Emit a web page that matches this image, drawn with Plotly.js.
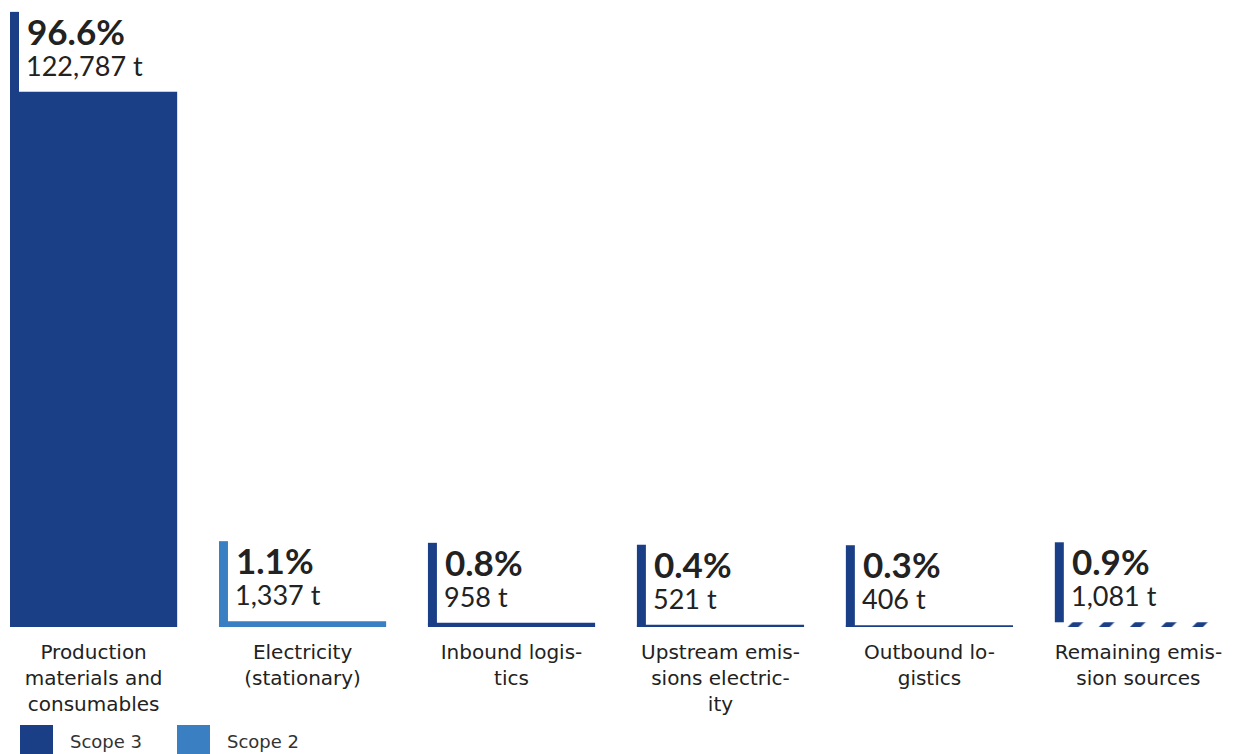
<!DOCTYPE html>
<html>
<head>
<meta charset="utf-8">
<script src="https://cdn.plot.ly/plotly-3.0.1.min.js"></script>
<style>
html,body{margin:0;padding:0;background:#fff;}
#chart{width:1240px;height:754px;}
</style>
</head>
<body>
<div id="chart"></div>
<script>
// ---- data ----
const categories = [
  'Production<br>materials and<br>consumables',
  'Electricity<br>(stationary)',
  'Inbound logis-<br>tics',
  'Upstream emis-<br>sions electric-<br>ity',
  'Outbound lo-<br>gistics',
  'Remaining emis-<br>sion sources'
];
const tonnes = [122787, 1337, 958, 521, 406, 1081];
const tonneLabels = ['122,787 t', '1,337 t', '958 t', '521 t', '406 t', '1,081 t'];
const percentLabels = ['96.6%', '1.1%', '0.8%', '0.4%', '0.3%', '0.9%'];
const scopes = ['Scope 3', 'Scope 2', 'Scope 3', 'Scope 3', 'Scope 3', 'Scope 3'];
const hatched = [false, false, false, false, false, true];
const legendNames = ['Scope 3', 'Scope 2'];

// ---- styles ----
const scopeColor = {'Scope 3': '#1b3f87', 'Scope 2': '#3a7fc2'};
const textColor = '#222222';
const NUMFONT = 'Lato, "Open Sans", sans-serif';
const LABFONT = '"DejaVu Sans", "Open Sans", sans-serif';

const W = 1240, H = 754;
const M = {l: 10, r: 18, t: 10, b: 127};
const plotW = W - M.l - M.r, plotH = H - M.t - M.b;
const BARW = 0.8;

const idx = categories.map((c, i) => i);
const colors = scopes.map(s => scopeColor[s]);

// solid bars
const solidTrace = {
  type: 'bar',
  x: idx.filter(i => !hatched[i]),
  y: tonnes.filter((v, i) => !hatched[i]),
  width: BARW,
  marker: {color: colors.filter((c, i) => !hatched[i]), line: {width: 0}},
  hoverinfo: 'skip', showlegend: false
};
// hatched bars
const hatchTrace = {
  type: 'bar',
  x: idx.filter(i => hatched[i]),
  y: tonnes.filter((v, i) => hatched[i]),
  width: BARW,
  marker: {
    color: '#ffffff', line: {width: 0},
    pattern: {shape: '/', fgcolor: scopeColor['Scope 3'], bgcolor: '#ffffff',
              size: 22, solidity: 0.35, fillmode: 'replace'}
  },
  hoverinfo: 'skip', showlegend: false
};

const shapes = [];
const annotations = [];
idx.forEach(i => {
  shapes.push({
    type: 'rect', layer: 'above',
    xref: 'x', yref: 'y',
    xsizemode: 'pixel', xanchor: i - BARW / 2, x0: 0, x1: 9,
    ysizemode: 'pixel', yanchor: tonnes[i], y0: hatched[i] ? 0 : -2, y1: 80,
    fillcolor: colors[i], line: {width: 0}
  });
  annotations.push({
    xref: 'x', yref: 'y', x: i - BARW / 2, y: tonnes[i],
    xanchor: 'left', yanchor: 'bottom', xshift: 15, yshift: 38,
    text: '<b>' + percentLabels[i] + '</b>', showarrow: false,
    font: {family: NUMFONT, size: 35, color: textColor}
  });
  annotations.push({
    xref: 'x', yref: 'y', x: i - BARW / 2, y: tonnes[i],
    xanchor: 'left', yanchor: 'bottom', xshift: 14, yshift: 8,
    text: tonneLabels[i], showarrow: false,
    font: {family: NUMFONT, size: 27, color: textColor}
  });
});

// custom legend
const px2x = px => (px - M.l) / plotW;
const py2y = py => (H - M.b - py) / plotH;
legendNames.forEach((name, k) => {
  const left = 20 + k * 157;
  shapes.push({
    type: 'rect', xref: 'paper', yref: 'paper',
    x0: px2x(left), x1: px2x(left + 33), y0: py2y(754), y1: py2y(725),
    fillcolor: scopeColor[name], line: {width: 0}
  });
  annotations.push({
    xref: 'paper', yref: 'paper', x: px2x(left + 48), y: py2y(741),
    xanchor: 'left', yanchor: 'middle', showarrow: false,
    text: name, font: {family: LABFONT, size: 18, color: '#333333'}
  });
});

const layout = {
  width: W, height: H,
  margin: M,
  paper_bgcolor: '#ffffff', plot_bgcolor: '#ffffff',
  font: {family: NUMFONT, color: textColor},
  showlegend: false,
  barmode: 'overlay',
  xaxis: {
    range: [-BARW / 2, categories.length - 1 + BARW / 2],
    tickmode: 'array', tickvals: idx, ticktext: categories,
    ticks: '', showgrid: false, zeroline: false, showline: false,
    tickfont: {family: LABFONT, size: 20, color: textColor},
    ticklabelstandoff: 11,
    fixedrange: true
  },
  yaxis: {
    range: [0, Math.max(...tonnes) * 1.153],
    visible: false, showgrid: false, zeroline: false, fixedrange: true
  },
  shapes: shapes,
  annotations: annotations
};

Plotly.newPlot('chart', [solidTrace, hatchTrace], layout, {displayModeBar: false, staticPlot: true});
</script>
</body>
</html>
